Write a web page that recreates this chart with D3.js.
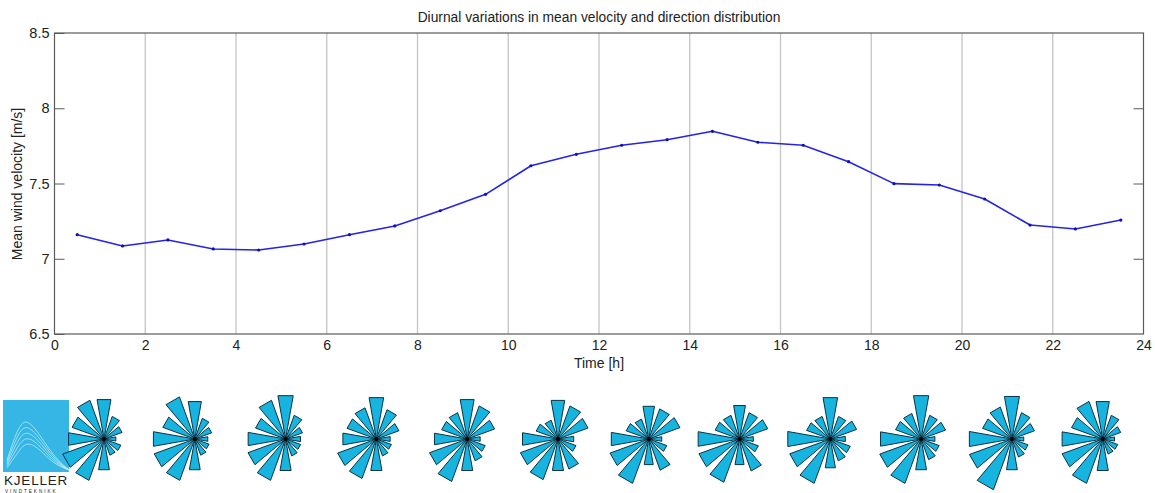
<!DOCTYPE html>
<html>
<head>
<meta charset="utf-8">
<script src="https://cdn.jsdelivr.net/npm/d3@7"></script>
<style>
  html, body { margin: 0; padding: 0; background: #fff; }
  svg { display: block; }
  text { font-family: "Liberation Sans", Arial, sans-serif; fill: #222; }
</style>
</head>
<body>
<svg id="chart" width="1155" height="493"></svg>
<script>
// Hourly mean wind velocity (m/s), values at the middle of each hour
const hours = [0.5, 1.5, 2.5, 3.5, 4.5, 5.5, 6.5, 7.5, 8.5, 9.5, 10.5, 11.5,
               12.5, 13.5, 14.5, 15.5, 16.5, 17.5, 18.5, 19.5, 20.5, 21.5, 22.5, 23.5];
const velocity = [7.16, 7.085, 7.125, 7.065, 7.058, 7.098, 7.16, 7.218, 7.319, 7.428, 7.618, 7.694,
                  7.754, 7.791, 7.847, 7.774, 7.754, 7.645, 7.499, 7.49, 7.397, 7.224, 7.198, 7.257];

const xTicks = [0, 2, 4, 6, 8, 10, 12, 14, 16, 18, 20, 22, 24];
const yTicks = [6.5, 7, 7.5, 8, 8.5];

// Direction distribution per two-hour block (sector frequency, %), sectors every 30 deg from north
const sectors = [0, 30, 60, 90, 120, 150, 180, 210, 240, 270, 300, 330];
const roseHours = [1, 3, 5, 7, 9, 11, 13, 15, 17, 19, 21, 23];
const rose01 = [10.0, 6.0, 4.8, 3.0, 4.5, 4.3, 7.8, 11.0, 11.0, 9.0, 8.5, 10.3];
const rose03 = [9.5, 5.5, 4.5, 3.3, 3.8, 4.3, 7.8, 11.0, 10.8, 10.5, 8.5, 11.2];
const rose05 = [11.0, 6.3, 4.5, 3.8, 4.0, 4.5, 8.0, 11.0, 10.0, 9.5, 8.0, 10.3];
const rose07 = [10.5, 7.8, 6.0, 3.5, 4.0, 4.5, 8.0, 10.5, 10.3, 8.5, 7.8, 8.3];
const rose09 = [10.0, 8.8, 7.3, 3.3, 4.8, 5.8, 8.0, 11.3, 10.0, 8.3, 6.8, 7.0];
const rose11 = [9.8, 8.8, 8.0, 4.0, 4.8, 8.0, 8.0, 10.8, 10.0, 9.0, 5.8, 5.0];
const rose13 = [8.3, 8.0, 8.3, 3.3, 4.8, 8.3, 6.5, 11.8, 10.3, 9.5, 6.0, 5.3];
const rose15 = [8.5, 7.0, 7.5, 3.5, 5.0, 8.5, 6.5, 11.5, 10.8, 10.5, 6.5, 6.3];
const rose17 = [10.5, 6.0, 7.0, 3.8, 5.3, 5.8, 7.3, 11.8, 10.8, 10.8, 6.3, 6.0];
const rose19 = [11.0, 6.3, 6.5, 3.5, 4.8, 5.5, 7.8, 11.8, 11.0, 10.3, 6.8, 6.8];
const rose21 = [10.8, 7.0, 6.0, 3.0, 4.3, 4.8, 7.8, 13.5, 11.3, 10.8, 7.8, 8.5];
const rose23 = [9.5, 6.3, 4.8, 3.0, 4.0, 4.0, 8.0, 11.8, 10.8, 10.3, 8.3, 10.0];
const roses = [rose01, rose03, rose05, rose07, rose09, rose11, rose13, rose15, rose17, rose19, rose21, rose23];

const svg = d3.select("#chart");
const margin = { left: 54.5, right: 1143.5, top: 33, bottom: 334 };

const x = d3.scaleLinear().domain([0, 24]).range([margin.left, margin.right]);
const y = d3.scaleLinear().domain([6.5, 8.5]).range([margin.bottom, margin.top]);

// vertical grid lines
svg.append("g")
  .selectAll("line")
  .data(xTicks.slice(1, -1))
  .join("line")
  .attr("x1", d => x(d)).attr("x2", d => x(d))
  .attr("y1", margin.top).attr("y2", margin.bottom)
  .attr("stroke", "#c4c4c4").attr("stroke-width", 1.3);

// frame
svg.append("rect")
  .attr("x", margin.left).attr("y", margin.top)
  .attr("width", margin.right - margin.left).attr("height", margin.bottom - margin.top)
  .attr("fill", "none").attr("stroke", "#5a5a5a").attr("stroke-width", 1.2);

// y axis: inward ticks on both sides
const yAxisL = d3.axisLeft(y).tickValues(yTicks).tickSize(-10).tickPadding(5)
  .tickFormat(d3.format("~g"));
const gyl = svg.append("g").attr("transform", `translate(${margin.left},0)`).call(yAxisL);
gyl.select(".domain").remove();
gyl.selectAll(".tick line").attr("stroke", "#5a5a5a");
gyl.selectAll(".tick text").attr("font-size", 14.5).attr("fill", "#222")
  .attr("font-family", "Liberation Sans, Arial, sans-serif");

const yAxisR = d3.axisRight(y).tickValues(yTicks.slice(1, -1)).tickSize(-10).tickFormat("");
const gyr = svg.append("g").attr("transform", `translate(${margin.right},0)`).call(yAxisR);
gyr.select(".domain").remove();
gyr.selectAll(".tick line").attr("stroke", "#5a5a5a");

// x axis labels
const xAxis = d3.axisBottom(x).tickValues(xTicks).tickSize(0).tickPadding(6)
  .tickFormat(d3.format("d"));
const gx = svg.append("g").attr("transform", `translate(0,${margin.bottom})`).call(xAxis);
gx.select(".domain").remove();
gx.selectAll(".tick text").attr("font-size", 14).attr("fill", "#222")
  .attr("font-family", "Liberation Sans, Arial, sans-serif");

// titles
svg.append("text").attr("x", 599).attr("y", 22).attr("text-anchor", "middle")
  .attr("font-size", 13.8).text("Diurnal variations in mean velocity and direction distribution");
svg.append("text").attr("x", 599).attr("y", 368).attr("text-anchor", "middle")
  .attr("font-size", 14).text("Time [h]");
svg.append("text").attr("transform", "translate(22,184) rotate(-90)")
  .attr("text-anchor", "middle").attr("font-size", 14).text("Mean wind velocity [m/s]");

// velocity line with point markers
const line = d3.line().x((d, i) => x(hours[i])).y(d => y(d));
svg.append("path").datum(velocity)
  .attr("d", line).attr("fill", "none")
  .attr("stroke", "#2424e6").attr("stroke-width", 1.6).attr("stroke-linejoin", "round");
svg.append("g").selectAll("circle").data(velocity).join("circle")
  .attr("cx", (d, i) => x(hours[i])).attr("cy", d => y(d)).attr("r", 1.6)
  .attr("fill", "#1010b0");

// logo
const logo = svg.append("g").attr("transform", "translate(3,400)");
logo.append("rect").attr("width", 66).attr("height", 72).attr("fill", "#35b6e4");
const curves = [
  [[4, 60], [14, 30], [22, 18], [34, 30], [50, 56], [66, 70]],
  [[4, 62], [14, 36], [22, 24], [34, 34], [50, 58], [66, 70]],
  [[4, 64], [14, 42], [22, 30], [34, 38], [50, 60], [66, 70]],
  [[4, 66], [14, 48], [22, 36], [34, 42], [50, 62], [66, 70]],
  [[4, 68], [14, 54], [22, 42], [34, 46], [50, 64], [66, 70]]
];
const curveGen = d3.line().curve(d3.curveBasis);
logo.selectAll("path.c").data(curves).join("path")
  .attr("d", curveGen).attr("fill", "none").attr("stroke", "#e8f6fc")
  .attr("stroke-opacity", 0.75).attr("stroke-width", 0.8);
logo.append("text").attr("x", 1).attr("y", 85).attr("font-size", 13.5)
  .attr("fill", "#8a8a8a").attr("letter-spacing", 0.8).text("KJELLER");
logo.append("text").attr("x", 2).attr("y", 92.8).attr("font-size", 4.6)
  .attr("fill", "#aaaaaa").attr("letter-spacing", 2).text("VINDTEKNIKK");

// wind roses
const xRose = d3.scaleLinear().domain([1, 23]).range([104, 1102.7]);
const rRose = d3.scaleLinear().domain([0, 12]).range([0, 48]);
const halfWidth = 10 * Math.PI / 180;
const roseY = 439;

roseHours.forEach((h, k) => {
  const g = svg.append("g").attr("transform", `translate(${xRose(h)},${roseY})`);
  g.selectAll("path").data(roses[k]).join("path")
    .attr("d", (v, i) => {
      const a = sectors[i] * Math.PI / 180;
      const r = rRose(v);
      const p = d3.path();
      p.moveTo(0, 0);
      p.lineTo(r * Math.sin(a - halfWidth), -r * Math.cos(a - halfWidth));
      p.lineTo(r * Math.sin(a + halfWidth), -r * Math.cos(a + halfWidth));
      p.closePath();
      return p.toString();
    })
    .attr("fill", "#17b4e0").attr("stroke", "#0b3344").attr("stroke-width", 1)
    .attr("stroke-linejoin", "round");
  g.append("circle").attr("r", 2).attr("fill", "#000");
});
</script>
</body>
</html>
